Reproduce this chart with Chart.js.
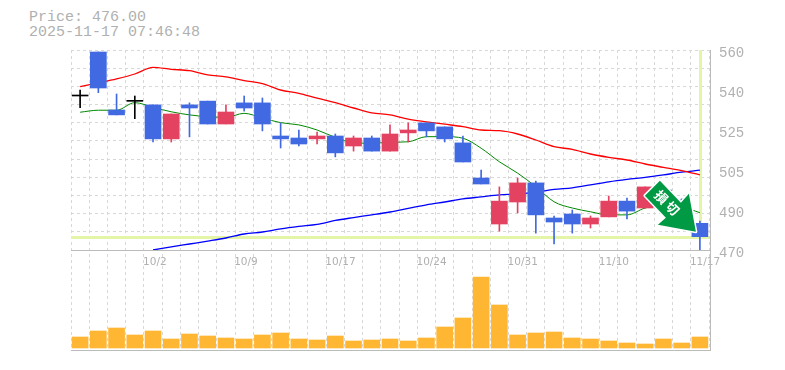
<!DOCTYPE html>
<html>
<head>
<meta charset="utf-8">
<title>Price chart</title>
<script src="https://cdn.jsdelivr.net/npm/chart.js@4/dist/chart.umd.min.js"></script>
<style>
  html, body { margin: 0; padding: 0; background: #fff; }
  #wrap { position: relative; width: 785px; height: 370px; overflow: hidden; }
  #chart { position: absolute; left: 0; top: 0; }
  #info { position: absolute; left: 29px; top: 10px; color: #b0b0b0; font: 15px/15px "Liberation Mono", monospace; white-space: pre; }
</style>
</head>
<body>
<div id="wrap">
  <div id="info">Price: 476.00
2025-11-17 07:46:48</div>
  <canvas id="chart" width="785" height="370"></canvas>
</div>
<script>
const days = [
  '9/26', '9/29', '9/30', '10/1', '10/2', '10/3', '10/6', '10/7', '10/8', '10/9',
  '10/10', '10/14', '10/15', '10/16', '10/17', '10/20', '10/21', '10/22', '10/23', '10/24',
  '10/27', '10/28', '10/29', '10/30', '10/31', '11/4', '11/5', '11/6', '11/7', '11/10',
  '11/11', '11/12', '11/13', '11/14', '11/17',
]
const opens = [
  539.3, 559.1, 533, 536.9, 535.3, 520, 535.3, 537, 526.7, 536.2,
  536.2, 521.3, 520.4, 520, 521.3, 516.8, 520.4, 514.5, 522.7, 527.2,
  525.4, 518.2, 502.4, 481.7, 491.6, 500.2, 484.4, 486.2, 481.7, 484.9,
  492, 488.9, 497, 492.5, 482,
]
const closes = [
  539.3, 542.9, 530.8, 536.9, 520, 531.2, 533.9, 526.7, 532.1, 533.9,
  526.7, 520, 517.7, 521.3, 513.7, 520.4, 514.5, 522.2, 524, 523.6,
  520, 509.6, 499.7, 492, 500.2, 485.8, 482.6, 481.7, 484.4, 492,
  487.5, 498.4, 494, 488, 476,
]
const highs = [
  542, 559.1, 540.2, 539.3, 535.3, 531.2, 536.2, 537, 535.3, 539.3,
  538.4, 527.2, 524, 523.1, 522.2, 521.3, 521.3, 526.3, 527.2, 527.2,
  525.4, 521.3, 506, 498.4, 502.4, 501, 485.3, 488, 485.3, 494.3,
  493.4, 498.4, 498, 493, 483,
]
const lows = [
  534, 540.8, 530.8, 529.1, 518.6, 518.6, 520.9, 526.7, 526.7, 532.5,
  523.6, 515.9, 516.8, 517.7, 511.9, 514.5, 514.5, 514.5, 518.6, 520.9,
  518.6, 509.6, 499.7, 478.5, 486.7, 477.6, 472.7, 477.6, 479.9, 484.9,
  484, 488.9, 493, 487, 470,
]
const redLine = [
  543.5, 545.2, 547, 549.2, 552.2, 551.3, 550.7, 548.8, 547.9, 546.2,
  544.9, 542, 540.5, 538.3, 536.3, 533.9, 531.7, 530.8, 528.9, 527.7,
  526.6, 525.5, 524, 523.7, 522.2, 519.5, 516.5, 515.3, 513.2, 511.7,
  510.5, 508.7, 507.2, 505.7, 503.8,
]
const greenLine = [
  532, 532.9, 532.9, 536.3, 534.2, 532.2, 530.8, 530, 529.7, 531.5,
  529.4, 527.3, 526.3, 524, 520.7, 518.3, 518, 518.5, 518.7, 521,
  521, 520.3, 515.8, 509.7, 504.6, 498.5, 491.7, 488.9, 487.2, 485.8,
  485.8, 488.9, 490.3, 489.4, 486.8,
]
const blueLine = [
  null, null, null, null, 470, 471.4, 472.7, 474, 475.4, 477.2,
  478.1, 479.5, 480.6, 481.5, 483.3, 484.6, 485.8, 487.1, 488.7, 490.3,
  491.6, 493, 493.9, 494.8, 495.2, 496, 497.3, 498, 499.3, 500.7,
  501.8, 502.7, 503.8, 505, 505.9,
]
const volumes = [
  11, 17, 20, 13, 17, 9, 14, 12, 10, 9,
  13, 15, 9, 8, 12, 7, 8, 9, 7, 10,
  21, 30, 71, 43, 13, 15, 16, 10, 9, 7,
  5, 4, 9, 5, 11,
]
const priceTicks = [470, 488, 506, 524, 542, 560]
const priceTickLabels = ['470', '490', '505', '525', '540', '560']
const lastPrice = 476
const badgeText = ['損', '切']

const GRID = '#d8d8d8'
const AXIS = '#bbb'
const LABEL = '#b0b0b0'
const HILITE = '#e4f5a8'
const BLUE = '#4169e1'
const RED = '#e34260'
const BLACK = '#000'

// 470 is the axis line itself, so no dashed line on top of it
const gridTicks = []
for (let i = 1; i <= 11; i++) gridTicks.push(470 + i * 90 / 11)

function candleColor(i) {
  if (opens[i] === closes[i]) return BLACK
  return closes[i] < opens[i] ? BLUE : RED
}
const colors = days.map((d, i) => candleColor(i))

// last price cross-hair, sits under the candles
const hilitePlugin = {
  id: 'hilite',
  beforeDatasetsDraw(chart) {
    const { ctx, chartArea, scales } = chart
    const py = scales.y.getPixelForValue(lastPrice)
    const px = scales.x.getPixelForValue(days.length - 1)
    ctx.save()
    ctx.fillStyle = HILITE
    ctx.fillRect(chartArea.left, Math.round(py) - 1, chartArea.width, 3)
    ctx.fillRect(Math.round(px) - 1, chartArea.top, 3, py - chartArea.top)
    ctx.restore()
  },
}

// border.dash also dashes the axis border, so the solid lines go in here
const axisLinesPlugin = {
  id: 'axisLines',
  beforeDatasetsDraw(chart) {
    const { ctx, chartArea, scales } = chart
    ctx.save()
    ctx.fillStyle = AXIS
    ctx.fillRect(chartArea.left, Math.round(scales.y.getPixelForValue(470)), chartArea.width + 2, 1)
    ctx.fillRect(Math.round(chartArea.right) + 1, chartArea.top, 1, chartArea.height)
    ctx.fillRect(chartArea.left, Math.round(chartArea.bottom), chartArea.width + 2, 1)
    ctx.restore()
  },
}

// green arrow badge pointing at the last candle
const badgePlugin = {
  id: 'badge',
  afterDatasetsDraw(chart) {
    const { ctx, scales } = chart
    const tx = scales.x.getPixelForValue(days.length - 1) - 4
    const ty = scales.y.getPixelForValue(lastPrice) - 5
    const shape = [[-36, -51], [-51, -36], [-30, -14], [-38, -7], [0, 0], [-7, -38], [-15, -29]]
    ctx.save()
    ctx.translate(tx, ty)
    ctx.beginPath()
    shape.forEach((p, i) => i ? ctx.lineTo(p[0], p[1]) : ctx.moveTo(p[0], p[1]))
    ctx.closePath()
    ctx.lineJoin = 'round'
    ctx.lineWidth = 3
    ctx.strokeStyle = '#fff'
    ctx.stroke()
    ctx.fillStyle = '#009944'
    ctx.fill()
    ctx.fillStyle = '#fff'
    ctx.font = 'bold 13px "Noto Sans CJK JP"'
    ctx.textAlign = 'center'
    ctx.textBaseline = 'middle'
    ctx.translate(-29, -29)
    ctx.rotate(Math.PI / 4)
    ctx.fillText(badgeText[0], -8, 0)
    ctx.fillText(badgeText[1], 8, 0)
    ctx.restore()
  },
}

const lineStyle = { type: 'line', pointRadius: 0, cubicInterpolationMode: 'monotone', order: 5, yAxisID: 'y', xAxisID: 'x' }

new Chart(document.getElementById('chart'), {
  type: 'bar',
  plugins: [hilitePlugin, axisLinesPlugin, badgePlugin],
  data: {
    labels: days,
    datasets: [
      { ...lineStyle, data: redLine, borderColor: '#f00', borderWidth: 1.3 },
      { ...lineStyle, data: blueLine, borderColor: '#00f', borderWidth: 1.3 },
      { ...lineStyle, data: greenLine, borderColor: '#080', borderWidth: 1 },
      { data: days.map((d, i) => [lows[i], highs[i]]), backgroundColor: colors, barThickness: 1, grouped: false, order: 3, yAxisID: 'y', xAxisID: 'x' },
      { data: days.map((d, i) => [opens[i], closes[i]]), backgroundColor: colors, barThickness: 16, minBarLength: 1, grouped: false, order: 2, yAxisID: 'y', xAxisID: 'x' },
      { data: volumes, backgroundColor: '#ffb733', barThickness: 16, grouped: false, order: 1, yAxisID: 'yVol', xAxisID: 'x' },
    ],
  },
  options: {
    responsive: false,
    animation: false,
    events: [],
    layout: { padding: { left: 71, top: 50, right: 0, bottom: 20 } },
    plugins: { legend: { display: false }, tooltip: { enabled: false } },
    scales: {
      x: {
        type: 'category',
        position: { y: 470 },
        offset: true,
        grid: { offset: true, color: GRID, lineWidth: 1, drawTicks: false },
        border: { display: false, dash: [3, 3] },
        ticks: {
          autoSkip: false,
          maxRotation: 0,
          align: 'start',
          labelOffset: -10,
          padding: 6,
          color: LABEL,
          font: { family: 'DejaVu Sans', size: 10.5 },
          callback: (v, i) => (i % 5 === 4 ? days[i] : ''),
        },
        afterFit: s => { s.height = 0 },
      },
      y: {
        type: 'linear',
        position: 'right',
        stack: 'panes',
        stackWeight: 2,
        min: 470,
        max: 560,
        grid: {
          drawTicks: false,
          lineWidth: 1,
          color: c => (gridTicks.some(g => Math.abs(g - c.tick.value) < 0.001) ? GRID : 'transparent'),
        },
        border: { display: false, dash: [3, 3] },
        afterBuildTicks: s => {
          const vals = [...gridTicks, ...priceTicks.filter(v => v !== 560)]
          s.ticks = vals.sort((a, b) => a - b).map(value => ({ value }))
        },
        ticks: {
          autoSkip: false,
          padding: 10,
          labelOffset: 3,
          color: LABEL,
          font: { family: 'Liberation Mono', size: 14 },
          callback: v => {
            const i = priceTicks.findIndex(t => Math.abs(t - v) < 0.001)
            return i < 0 ? '' : priceTickLabels[i]
          },
        },
        afterFit: s => { s.width = 76 },
      },
      yVol: {
        type: 'linear',
        position: 'right',
        stack: 'panes',
        stackWeight: 1,
        min: -2,
        max: 98,
        grid: { display: false, drawTicks: false },
        border: { display: false },
        ticks: { display: false },
        afterFit: s => { s.width = 76 },
      },
    },
  },
})
</script>
</body>
</html>
